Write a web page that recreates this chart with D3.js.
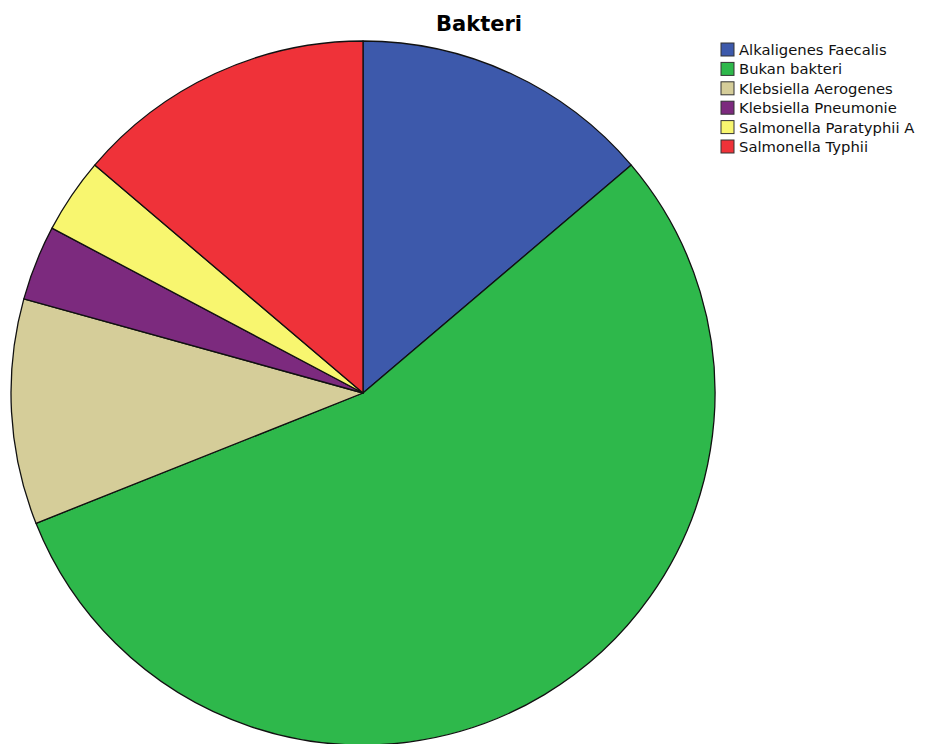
<!DOCTYPE html>
<html><head><meta charset="utf-8">
<script src="https://cdn.jsdelivr.net/npm/d3@7"></script>
<style>body{margin:0;background:#fff}svg{display:block}</style>
</head><body>
<script>
const title = "Bakteri";
const categories = ["Alkaligenes Faecalis","Bukan bakteri","Klebsiella Aerogenes","Klebsiella Pneumonie","Salmonella Paratyphii A","Salmonella Typhii"];
const counts = [4,16,3,1,1,4];
const colors = ["#3d59ab","#2eb84b","#d5cd99","#7c2a7e","#f8f66f","#ef3239"];

const W=930,H=744;
const svg=d3.select("body").append("svg").attr("width",W).attr("height",H);
const data=categories.map((c,i)=>({c,v:counts[i],col:colors[i]}));
const pie=d3.pie().value(d=>d.v).sort(null);
const arc=d3.arc().innerRadius(0).outerRadius(352);
const g=svg.append("g").attr("transform","translate(363,393)");
g.selectAll("path").data(pie(data)).join("path")
 .attr("d",arc).attr("fill",d=>d.data.col)
 .attr("stroke","#111").attr("stroke-width",1.3).attr("stroke-linejoin","round");

svg.append("text").attr("x",479).attr("y",31).attr("text-anchor","middle")
 .attr("font-family","DejaVu Sans, sans-serif").attr("font-weight","bold").attr("font-size",21).text(title);

const lg=svg.append("g").attr("transform","translate(721,43)");
const rows=lg.selectAll("g").data(data).join("g").attr("transform",(d,i)=>`translate(0,${i*19.4})`);
rows.append("rect").attr("width",13).attr("height",13).attr("fill",d=>d.col).attr("stroke","#333").attr("stroke-width",1);
rows.append("text").attr("x",18).attr("y",12).attr("font-family","DejaVu Sans, sans-serif").attr("font-size",14.8).attr("fill","#111").text(d=>d.c);
</script>
</body></html>
